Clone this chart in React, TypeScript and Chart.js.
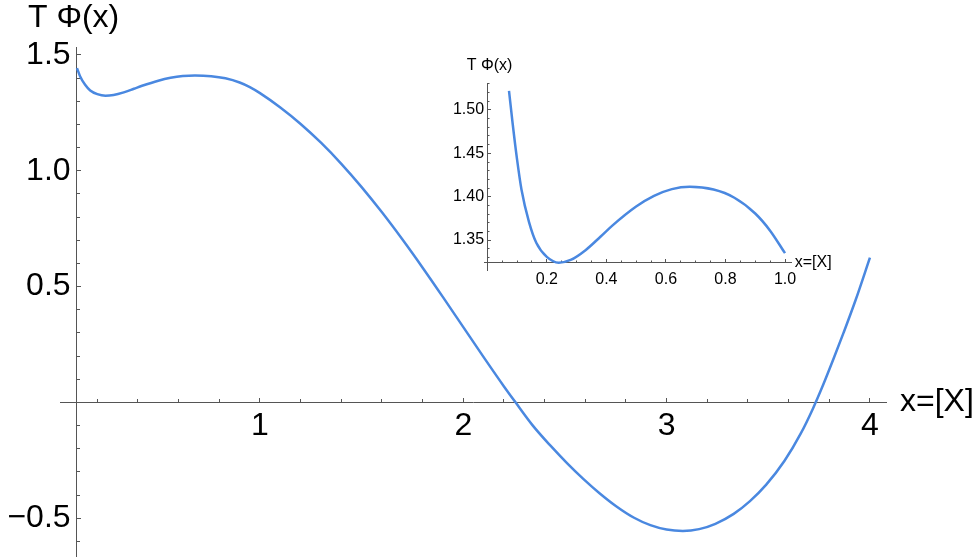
import React, { useEffect, useRef } from "react";
import { Chart, registerables } from "chart.js";

Chart.register(...registerables);

const FONT = "'Liberation Sans', Arial, sans-serif";
const LINE_COLOR = "#4a88e0";
const AXIS_COLOR = "#555555";

// Curve T Φ(x)
const xValues = [
  0.073, 0.085, 0.1, 0.115, 0.14, 0.165, 0.2, 0.24, 0.28, 0.33, 0.38, 0.42, 0.5,
  0.56, 0.62, 0.68, 0.76, 0.83, 0.9, 0.95, 1.0, 1.1, 1.2, 1.3, 1.4, 1.5, 1.6,
  1.7, 1.8, 1.9, 2.0, 2.1, 2.2, 2.255, 2.34, 2.43, 2.51, 2.59, 2.67, 2.75, 2.84,
  2.92, 3.0, 3.08, 3.16, 3.24, 3.33, 3.41, 3.49, 3.58, 3.66, 3.72, 3.77, 3.82,
  3.87, 3.93, 4.0,
];
const yValues = [
  1.522, 1.485, 1.443, 1.408, 1.371, 1.3465, 1.3305, 1.3238, 1.327, 1.3383,
  1.3538, 1.3666, 1.3886, 1.4009, 1.4087, 1.4114, 1.4082, 1.3988, 1.3806,
  1.3608, 1.3348, 1.2728, 1.2018, 1.1208, 1.0298, 0.9293, 0.8203, 0.7038,
  0.5813, 0.4543, 0.3248, 0.1953, 0.0688, 0.0023, -0.098, -0.188, -0.262,
  -0.33, -0.392, -0.447, -0.498, -0.53, -0.549, -0.555, -0.547, -0.524,
  -0.481, -0.426, -0.355, -0.252, -0.134, -0.026, 0.076, 0.186, 0.3, 0.443,
  0.625,
];

// Main plot ticks
const mainXMajor = [1, 2, 3, 4];
const mainXMinor = [0.2, 0.4, 0.6, 0.8, 1.2, 1.4, 1.6, 1.8, 2.2, 2.4, 2.6, 2.8, 3.2, 3.4, 3.6, 3.8];
const mainYMajor = [-0.5, 0.5, 1.0, 1.5];
const mainYMinor = [-0.6, -0.4, -0.3, -0.2, -0.1, 0.1, 0.2, 0.3, 0.4, 0.6, 0.7, 0.8, 0.9, 1.1, 1.2, 1.3, 1.4];

// Inset ticks
const insetXMajor = [0.2, 0.4, 0.6, 0.8, 1.0];
const insetXMinor = [0.05, 0.1, 0.15, 0.25, 0.3, 0.35, 0.45, 0.5, 0.55, 0.65, 0.7, 0.75, 0.85, 0.9, 0.95];
const insetYMajor = [1.35, 1.4, 1.45, 1.5];
const insetYMinor = [1.33, 1.34, 1.36, 1.37, 1.38, 1.39, 1.41, 1.42, 1.43, 1.44, 1.46, 1.47, 1.48, 1.49, 1.51, 1.52, 1.53];

const Y_TITLE = "T Φ(x)";
const X_TITLE = "x=[X]";

type Cfg = {
  xMin: number; xMax: number; yMin: number; yMax: number;
  originX: number; originY: number;
  xMajor: number[]; xMinor: number[]; yMajor: number[]; yMinor: number[];
  fontSize: number; majorLen: number; minorLen: number; xPad: number;
  xFmt: (v: number) => string; yFmt: (v: number) => string;
  padding: { left: number; right: number; top: number; bottom: number };
  titleFont: number; xTitleGap: number; yTitleDx: number; yTitleDy: number;
  lineWidth: number;
  points: { x: number; y: number }[];
};

function setTicks(list: number[]) {
  return (s: any) => {
    s.ticks = list.map((v) => ({ value: v }));
  };
}

function buildConfig(c: Cfg): any {
  const font = { family: FONT, size: c.fontSize };
  const common = (axis: "x" | "y") => ({
    type: "linear",
    axis,
    afterFit: (s: any) => {
      if (axis === "x") s.height = 0;
      else s.width = 0;
      s.paddingLeft = 0;
      s.paddingRight = 0;
      s.paddingTop = 0;
      s.paddingBottom = 0;
    },
  });
  const titlePlugin = {
    id: "axisTitles",
    afterDraw(chart: any) {
      const ctx = chart.ctx;
      const xs = chart.scales.x;
      const ys = chart.scales.y;
      ctx.save();
      ctx.font = `${c.titleFont}px ${FONT}`;
      ctx.fillStyle = "#000";
      ctx.textAlign = "left";
      ctx.textBaseline = "middle";
      ctx.fillText(X_TITLE, chart.chartArea.right + c.xTitleGap, ys.getPixelForValue(c.originY));
      ctx.fillText(Y_TITLE, xs.getPixelForValue(c.originX) + c.yTitleDx, chart.chartArea.top + c.yTitleDy);
      ctx.restore();
    },
  };
  return {
    type: "line",
    data: {
      datasets: [
        {
          data: c.points,
          borderColor: LINE_COLOR,
          borderWidth: c.lineWidth,
          pointRadius: 0,
          fill: false,
          cubicInterpolationMode: "monotone",
        },
      ],
    },
    options: {
      animation: false,
      responsive: false,
      events: [],
      layout: { padding: c.padding },
      plugins: { legend: { display: false }, tooltip: { enabled: false }, title: { display: false } },
      scales: {
        x: {
          ...common("x"),
          min: c.xMin,
          max: c.xMax,
          position: { y: c.originY },
          afterBuildTicks: setTicks(c.xMajor),
          grid: { drawOnChartArea: false, drawTicks: true, tickLength: -c.majorLen, tickColor: AXIS_COLOR, tickWidth: 1 },
          border: { display: true, color: AXIS_COLOR, width: 1 },
          ticks: {
            font, color: "#000", padding: c.xPad, maxRotation: 0, autoSkip: false,
            callback: (v: any) => c.xFmt(Number(v)),
          },
        },
        xMinor: {
          ...common("x"),
          min: c.xMin,
          max: c.xMax,
          position: { y: c.originY },
          afterBuildTicks: setTicks(c.xMinor),
          grid: { drawOnChartArea: false, drawTicks: true, tickLength: -c.minorLen, tickColor: AXIS_COLOR, tickWidth: 1 },
          border: { display: false },
          ticks: { display: false },
        },
        y: {
          ...common("y"),
          min: c.yMin,
          max: c.yMax,
          position: { x: c.originX },
          afterBuildTicks: setTicks(c.yMajor),
          grid: { drawOnChartArea: false, drawTicks: true, tickLength: -c.majorLen, tickColor: AXIS_COLOR, tickWidth: 1 },
          border: { display: true, color: AXIS_COLOR, width: 1 },
          ticks: {
            font, color: "#000", padding: 0, autoSkip: false,
            callback: (v: any) => c.yFmt(Number(v)) + "\u2009",
          },
        },
        yMinor: {
          ...common("y"),
          min: c.yMin,
          max: c.yMax,
          position: { x: c.originX },
          afterBuildTicks: setTicks(c.yMinor),
          grid: { drawOnChartArea: false, drawTicks: true, tickLength: -c.minorLen, tickColor: AXIS_COLOR, tickWidth: 1 },
          border: { display: false },
          ticks: { display: false },
        },
      },
    },
    plugins: [titlePlugin],
  };
}

const minus = (s: string) => s.replace("-", "\u2212");

export default function App() {
  const mainRef = useRef<HTMLCanvasElement>(null);
  const insetRef = useRef<HTMLCanvasElement>(null);

  useEffect(() => {
    const all = xValues.map((x, i) => ({ x, y: yValues[i] }));
    const mainPts = all.filter((p) => p.x >= 0.1);
    const insetPts = all.filter((p) => p.x <= 1.0);

    const main = new Chart(
      mainRef.current as HTMLCanvasElement,
      buildConfig({
        xMin: 0.0164, xMax: 4.079, yMin: -0.663, yMax: 1.534,
        originX: 0.1, originY: 0,
        xMajor: mainXMajor, xMinor: mainXMinor, yMajor: mainYMajor, yMinor: mainYMinor,
        fontSize: 32, majorLen: 5, minorLen: 3, xPad: 10,
        xFmt: (v) => String(v),
        yFmt: (v) => minus(v.toFixed(1)),
        padding: { left: 60, right: 94, top: 47, bottom: 4 },
        titleFont: 32, xTitleGap: 14, yTitleDx: -49, yTitleDy: -29,
        lineWidth: 2.5,
        points: mainPts,
      })
    );

    const inset = new Chart(
      insetRef.current as HTMLCanvasElement,
      buildConfig({
        xMin: -0.01, xMax: 1.0225, yMin: 1.3154, yMax: 1.5308,
        originX: 0, originY: 1.3238,
        xMajor: insetXMajor, xMinor: insetXMinor, yMajor: insetYMajor, yMinor: insetYMinor,
        fontSize: 16, majorLen: 4, minorLen: 2.5, xPad: 11,
        xFmt: (v) => v.toFixed(1),
        yFmt: (v) => v.toFixed(2),
        padding: { left: 64.3, right: 78.3, top: 43.3, bottom: 20 },
        titleFont: 16, xTitleGap: 3, yTitleDx: -20.6, yTitleDy: -18,
        lineWidth: 2.5,
        points: insetPts,
      })
    );

    return () => {
      main.destroy();
      inset.destroy();
    };
  }, []);

  return (
    <div style={{ position: "absolute", left: 0, top: 0, width: 980, height: 560, background: "#fff" }}>
      <canvas ref={mainRef} width={980} height={560} style={{ position: "absolute", left: 0, top: 0 }} />
      <canvas ref={insetRef} width={450} height={250} style={{ position: "absolute", left: 420, top: 40 }} />
    </div>
  );
}
